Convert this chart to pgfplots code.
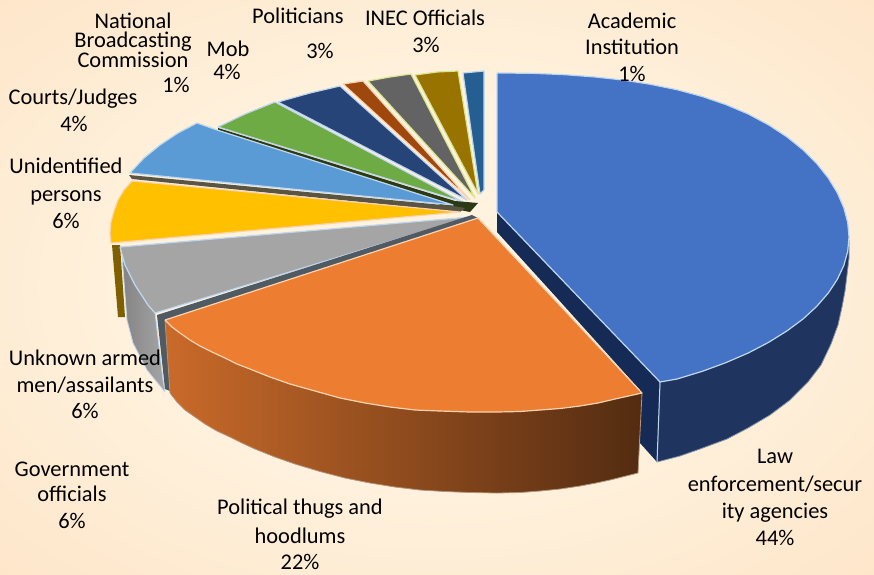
\documentclass[border=0pt]{standalone}
\usepackage{pgfplots}
\pgfplotsset{compat=1.18}
\usepackage{fontspec}
\setmainfont{Carlito}

\definecolor{bgin}{HTML}{FFF3E0}
\definecolor{bgout}{HTML}{FDDDBA}
\pgfdeclareradialshading{bgshade}{\pgfpoint{0bp}{0bp}}{color(0bp)=(bgin); color(15bp)=(bgin); color(50bp)=(bgout)}

\definecolor{cBlue}{HTML}{4472C4}
\definecolor{cBlueSide}{HTML}{1F3560}
\definecolor{cBlueCut}{HTML}{152B55}
\definecolor{cOrange}{HTML}{ED7D31}
\definecolor{cGrey}{HTML}{A5A5A5}
\definecolor{cCutGrey}{HTML}{505A62}
\definecolor{cYellow}{HTML}{FFC000}
\definecolor{cOlive}{HTML}{7F6000}
\definecolor{cSky}{HTML}{5B9BD5}
\definecolor{cGreen}{HTML}{6FAB45}
\definecolor{cDGreen}{HTML}{2B3A14}
\definecolor{cNavy}{HTML}{264478}
\definecolor{cRust}{HTML}{9E480E}
\definecolor{cDGrey}{HTML}{636363}
\definecolor{cGold}{HTML}{997300}
\definecolor{cTeal}{HTML}{255E91}
\definecolor{edgeB}{HTML}{BFD7EE}
\definecolor{edgeO}{HTML}{FBD3B0}

\newcommand{\lbl}[3]{\node[font=\fontsize{22.4}{26}\selectfont,text=black,text height=14pt,text depth=5pt,inner sep=0pt] at (axis cs:#1,#2) {#3};}

\begin{document}
\begin{tikzpicture}
\begin{axis}[
    scale only axis,
    width=874pt,
    height=574pt,
    xmin=0, xmax=874,
    ymin=0, ymax=574,
    y dir=reverse,
    ticks=none,
    axis line style={draw=none},
    axis background/.style={shading=bgshade},
    every axis plot/.append style={line join=round, mark=none, line width=1.2pt},
]
% back slices, thin ones first
\addplot[draw=edgeB, fill=cTeal] coordinates {(463,73) (484,71) (484,190) (480,194) (463,73)};
\addplot[draw=edgeB!60!yellow, fill=cGold] coordinates {(415,75) (437,72) (458,71) (478,194) (415,75)};
\addplot[draw=edgeB!60!yellow, fill=cDGrey] coordinates {(368,81) (390,77) (411,74) (475,198) (368,81)};
\addplot[draw=edgeO, fill=cRust] coordinates {(343,84) (363,81) (470,200) (343,84)};
\addplot[draw=edgeB, fill=cNavy] coordinates {(278,102) (310,93) (340,86) (467,200) (278,102)};
\addplot[draw=edgeB, fill=cGreen] coordinates {(218,127) (245,114) (275,102) (463,202) (218,127)};
\addplot[draw=none, fill=cDGreen, forget plot] coordinates {(218,128) (455,201) (478,203) (470,212) (450,208) (218,132) (218,128)};
\addplot[draw=edgeB, fill=cSky] coordinates {(130,173) (144,158) (160,145) (178,133) (197,123) (217,130) (453,205) (130,173)};
\addplot[draw=none, fill=black!75!yellow, forget plot] coordinates {(129,175) (453,206) (465,208) (460,212) (132,179) (129,175)};
\addplot[draw=edgeO, fill=cYellow] coordinates {(132,181) (124,190) (118,200) (114,211) (111,222) (110,233) (111,243) (460,212) (132,181)};

% yellow side, grey side and cut faces
\addplot[draw=none, fill=cOlive] coordinates {(112,245) (120,245) (125,317) (118,317) (112,245)};
\addplot[draw=edgeB, line width=0.8pt, left color=cGrey!80!black, right color=cGrey] coordinates {(122,255) (127,320) (133,343) (147,370) (165,392) (163,380) (155,313) (148,305) (135,285) (125,265) (122,255)};
\addplot[draw=edgeB, fill=cGrey] coordinates {(120,247) (125,265) (135,285) (148,305) (155,313) (470,217) (120,247)};
\addplot[draw=none, fill=cCutGrey] coordinates {(157,315) (472,215) (478,218) (165,320) (170,391) (165,389) (157,315)};

% blue slice
\addplot[draw=edgeB!70!black, line width=0.8pt, fill=cBlueSide] coordinates {(849,240) (849,258) (847,275) (845,291) (842,307) (838,325) (831,344) (821,365) (808,382) (790,400) (770,415) (748,428) (727,439) (700,449) (680,456) (657,462) (660,382) (849,240)};
\addplot[draw=none, fill=cBlueCut] coordinates {(497,212) (660,382) (657,462) (640,443) (640,390) (557,298) (497,232) (497,212)};
\addplot[draw=edgeB, line width=1pt] coordinates {(660,382) (657,462)};
\addplot[draw=edgeB, fill=cBlue] coordinates {(497,73) (505,73) (535,73.4) (565,74.7) (594,76.9) (623,80) (650.4,84.3) (677,89.7) (702.3,96.5) (726,104.6) (748.2,114) (768.5,124.8) (786.8,136.8) (803,149.8) (816.8,163.6) (828.3,178) (837.3,192.8) (843.8,207.7) (847.7,222.5) (849,237) (847.7,251.3) (843.8,265.5) (837.3,279.4) (828.3,293) (816.8,306.3) (803,319) (786.8,331) (768.5,342.4) (748.2,353) (726,362.6) (702.3,371.3) (677,379) (660,382) (497,212) (497,73)};

% orange slice
\addplot[draw=edgeO!70!black, line width=0.8pt, shading=axis, left color=cOrange!85!black, middle color=cOrange!55!black, right color=cOrange!35!black] coordinates {(165,320) (170,393) (177,402) (185,410) (195,417) (205,424) (217,431) (230,437) (242,443) (255,449) (275,457) (295,464) (320,471.5) (345,478) (370,483) (395,487) (420,490) (445,491.5) (470,492.5) (497,493) (520,492.5) (540,491) (560,489) (580,486) (596,483) (610,480) (638,473) (642,393) (165,320)};
\addplot[draw=edgeO, fill=cOrange] coordinates {(165,320) (172,327) (180,333) (190,340) (200,346) (212,352) (225,358) (237,364) (250,369) (270,377) (290,384) (315,391) (340,398) (365,403) (390,407) (415,410) (440,411) (470,412) (497,412) (520,411.5) (540,410) (560,408.5) (580,406) (598,403) (615,399) (642,393) (478,218) (165,320)};

% labels
\node[font=\fontsize{22.4}{19.5}\selectfont,text=black,align=center,inner sep=0pt] at (axis cs:133,40) {National\\Broadcasting\\Commission};
\lbl{176}{88}{1\%}
\lbl{298}{19}{Politicians}
\lbl{320}{54}{3\%}
\lbl{425}{21}{INEC Officials}
\lbl{426}{48}{3\%}
\lbl{228}{52}{Mob}
\lbl{227}{75}{4\%}
\lbl{73}{100}{Courts/Judges}
\lbl{74}{127}{4\%}
\lbl{632}{24}{Academic}
\lbl{632}{50}{Institution}
\lbl{632}{77}{1\%}
\lbl{66}{169}{Unidentified}
\lbl{66}{197}{persons}
\lbl{66}{224}{6\%}
\lbl{85}{361}{Unknown armed}
\lbl{85}{388}{men/assailants}
\lbl{85}{414}{6\%}
\lbl{72}{472}{Government}
\lbl{72}{497}{officials}
\lbl{72}{524}{6\%}
\lbl{300}{510}{Political thugs and}
\lbl{300}{539}{hoodlums}
\lbl{300}{564.5}{22\%}
\lbl{775}{459}{Law}
\lbl{775}{487}{enforcement/secur}
\lbl{775}{514}{ity agencies}
\lbl{775}{541}{44\%}
\end{axis}
\end{tikzpicture}
\end{document}
